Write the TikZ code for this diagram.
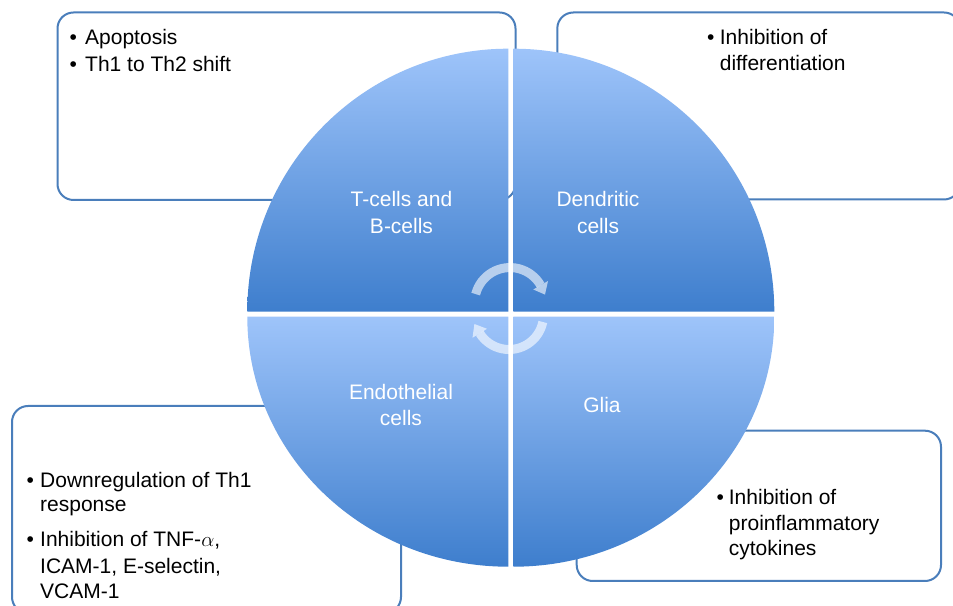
\documentclass[tikz,border=0pt]{standalone}
\usepackage{fontspec}
\setmainfont{Liberation Sans}
\definecolor{qlight}{RGB}{158,196,250}
\definecolor{qdark}{RGB}{62,126,205}
\definecolor{boxblue}{RGB}{74,126,187}
\begin{document}
\begin{tikzpicture}[x=1pt,y=1pt,
  infobox/.style={draw=boxblue, line width=2pt, rounded corners=16pt, fill=white},
  txt/.style={inner sep=0pt, anchor=base west, font=\fontsize{21}{26}\selectfont, text=black},
  qlabel/.style={inner sep=0pt, anchor=base, font=\fontsize{21}{26}\selectfont, text=white},
  quad/.style={top color=qlight, bottom color=qdark, draw=none},
  cycline/.style={line width=9pt, draw=white, opacity=0.6, line cap=butt},
  cychead/.style={fill=white, draw=none, opacity=0.6}
]
\useasboundingbox (0,0) rectangle (953,605);
% boxes
\draw[infobox] (57.5,405) rectangle (515.5,592.5);
\draw[infobox] (557.3,405.5) rectangle (960,592.5);
\draw[infobox] (12,-8) rectangle (401,199);
\draw[infobox] (576.7,24) rectangle (941,174.3);
% quadrants
\shade[quad] (508.3,293.3) -- (247.3,293.3) arc[start angle=180, end angle=90, x radius=261, y radius=263] -- cycle;
\shade[quad] (513.3,293.3) -- (513.3,556.3) arc[start angle=90, end angle=0, x radius=261, y radius=263] -- cycle;
\shade[quad] (508.3,288.3) -- (247.3,288.3) arc[start angle=180, end angle=270, x radius=261, y radius=250] -- cycle;
\shade[quad] (513.3,288.3) -- (774.3,288.3) arc[start angle=0, end angle=-90, x radius=261, y radius=250] -- cycle;
% cycle arrows
\draw[cycline] (475.7,310.9) arc[start angle=165.5, end angle=30, radius=35.4];
\fill[cychead] (548.0,324.0) -- (533.3,315.5) -- (545.0,310.4) -- cycle;
\draw[cycline] (542.8,283.0) arc[start angle=-11.7, end angle=-148, radius=34.5];
\fill[cychead] (472.5,267.2) -- (487.0,276.2) -- (474.4,281.0) -- cycle;
% quadrant labels
\node[qlabel] (tb1) at (401.5,398.3) {T-cells and};
\node[qlabel] (tb2) at (401.5,371.7) {B-cells};
\node[qlabel] (dc1) at (598,398.3) {Dendritic};
\node[qlabel] (dc2) at (598,371.7) {cells};
\node[qlabel] (en1) at (401,205.7) {Endothelial};
\node[qlabel] (en2) at (401,179.7) {cells};
\node[qlabel] (gl) at (602,192.3) {Glia};
% top-left texts
\node[txt] (tlb1) at (69.5,560) {•};
\node[txt] (tl1) at (85,560) {Apoptosis};
\node[txt] (tlb2) at (69.5,533.3) {•};
\node[txt] (tl2) at (85,533.3) {Th1 to Th2 shift};
% top-right texts
\node[txt] (trb1) at (706.8,560) {•};
\node[txt] (tr1) at (719.7,560) {Inhibition of};
\node[txt] (tr2) at (719.7,534.3) {differentiation};
% bottom-left texts
\node[txt] (blb1) at (26.5,117.7) {•};
\node[txt] (bl1) at (40,117.7) {Downregulation of Th1};
\node[txt] (bl2) at (40,93.3) {response};
\node[txt] (blb2) at (26.5,58.3) {•};
\node[txt] (bl3) at (40,58.3) {Inhibition of TNF-$\alpha$,};
\node[txt] (bl4) at (40,31.7) {ICAM-1, E-selectin,};
\node[txt] (bl5) at (40,6) {VCAM-1};
% bottom-right texts
\node[txt] (brb1) at (716.3,100) {•};
\node[txt] (br1) at (728.7,100) {Inhibition of};
\node[txt] (br2) at (728.7,74) {proinflammatory};
\node[txt] (br3) at (728.7,49) {cytokines};
\end{tikzpicture}
\end{document}
